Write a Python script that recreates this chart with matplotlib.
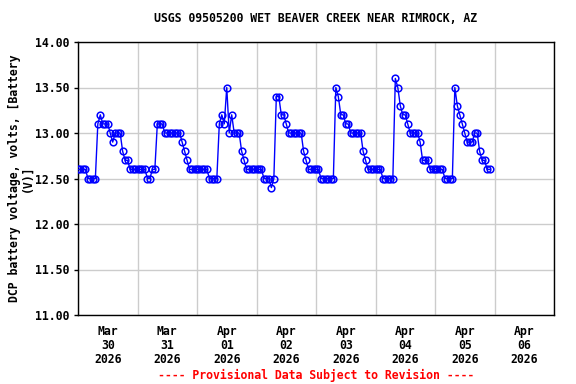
import matplotlib
matplotlib.use("Agg")
import matplotlib.pyplot as plt
import matplotlib.dates as mdates
import pandas as pd
import numpy as np

# Hourly battery voltage readings (V), starting 2026-03-30 00:00
start_time = "2026-03-30 00:00"
voltage = [
    12.6, 12.6, 12.6, 12.6, 12.5, 12.5, 12.5, 12.5,
    13.1, 13.2, 13.1, 13.1, 13.1, 13.0, 12.9, 13.0, 13.0, 13.0,
    12.8, 12.7, 12.7,
    12.6, 12.6, 12.6, 12.6, 12.6, 12.6, 12.6,
    12.5, 12.5, 12.6, 12.6,
    13.1, 13.1, 13.1, 13.0, 13.0, 13.0, 13.0, 13.0, 13.0, 13.0,
    12.9, 12.8, 12.7,
    12.6, 12.6, 12.6, 12.6, 12.6, 12.6, 12.6, 12.6,
    12.5, 12.5, 12.5, 12.5,
    13.1, 13.2, 13.1, 13.5, 13.0, 13.2, 13.0, 13.0, 13.0,
    12.8, 12.7,
    12.6, 12.6, 12.6, 12.6, 12.6, 12.6, 12.6,
    12.5, 12.5, 12.5, 12.4, 12.5,
    13.4, 13.4, 13.2, 13.2, 13.1, 13.0, 13.0, 13.0, 13.0, 13.0, 13.0,
    12.8, 12.7,
    12.6, 12.6, 12.6, 12.6, 12.6,
    12.5, 12.5, 12.5, 12.5, 12.5, 12.5,
    13.5, 13.4, 13.2, 13.2, 13.1, 13.1, 13.0, 13.0, 13.0, 13.0, 13.0,
    12.8, 12.7,
    12.6, 12.6, 12.6, 12.6, 12.6, 12.6,
    12.5, 12.5, 12.5, 12.5, 12.5,
    13.6, 13.5, 13.3, 13.2, 13.2, 13.1, 13.0, 13.0, 13.0, 13.0,
    12.9, 12.7, 12.7, 12.7,
    12.6, 12.6, 12.6, 12.6, 12.6, 12.6,
    12.5, 12.5, 12.5, 12.5,
    13.5, 13.3, 13.2, 13.1, 13.0, 12.9, 12.9, 12.9, 13.0, 13.0,
    12.8, 12.7, 12.7, 12.6, 12.6,
]
times = pd.date_range(start_time, periods=len(voltage), freq="h")

day_labels = ["Mar\n30\n2026", "Mar\n31\n2026", "Apr\n01\n2026", "Apr\n02\n2026",
              "Apr\n03\n2026", "Apr\n04\n2026", "Apr\n05\n2026", "Apr\n06\n2026"]
days = pd.date_range("2026-03-30", periods=len(day_labels), freq="D")

title = "USGS 09505200 WET BEAVER CREEK NEAR RIMROCK, AZ"
ylabel = "DCP battery voltage, volts, [Battery\n(V)]"
footer = "---- Provisional Data Subject to Revision ----"

font = "DejaVu Sans Mono"
fs = 8.3

fig = plt.figure(figsize=(5.76, 3.84), dpi=100)
ax = fig.add_axes([78/576, 1-315/384, (554-78)/576, (315-42)/384])

ax.plot(times, voltage, color="#0000ff", lw=1.0, marker="o", ms=4.8,
        mfc="none", mec="#0000ff", mew=1.1, zorder=3)

ax.set_ylim(11.0, 14.0)
ax.set_yticks(np.arange(11.0, 14.01, 0.5))
ax.yaxis.set_major_formatter(matplotlib.ticker.FormatStrFormatter("%.2f"))

xmin = pd.Timestamp("2026-03-30")
xmax = pd.Timestamp("2026-04-07")
ax.set_xlim(xmin, xmax)
ax.set_xticks(pd.date_range(xmin, xmax, freq="D"))
ax.set_xticklabels([])
ax.set_xticks(days + pd.Timedelta(hours=12), minor=True)
ax.set_xticklabels(day_labels, minor=True)
ax.tick_params(axis="x", which="both", length=0, pad=7)
ax.tick_params(axis="y", length=3, width=1, pad=3)

for lab in ax.get_xticklabels(minor=True) + ax.get_yticklabels():
    lab.set_fontfamily(font)
    lab.set_fontweight("bold")
    lab.set_fontsize(fs)
for lab in ax.get_xticklabels(minor=True):
    lab.set_linespacing(1.1)

ax.grid(True, which="major", color="#cccccc", lw=1.0)
ax.set_axisbelow(True)
for sp in ax.spines.values():
    sp.set_color("black")
    sp.set_linewidth(1.0)

ax.set_ylabel(ylabel, fontfamily=font, fontweight="bold", fontsize=fs,
              linespacing=1.0, labelpad=1)

fig.text(316/576, 1-18/384, title, ha="center", va="center",
         fontfamily=font, fontweight="bold", fontsize=fs)
fig.text(316/576, 1-375/384, footer, ha="center", va="center",
         fontfamily=font, fontweight="bold", fontsize=fs, color="red")

fig.savefig("out.png", dpi=100)
